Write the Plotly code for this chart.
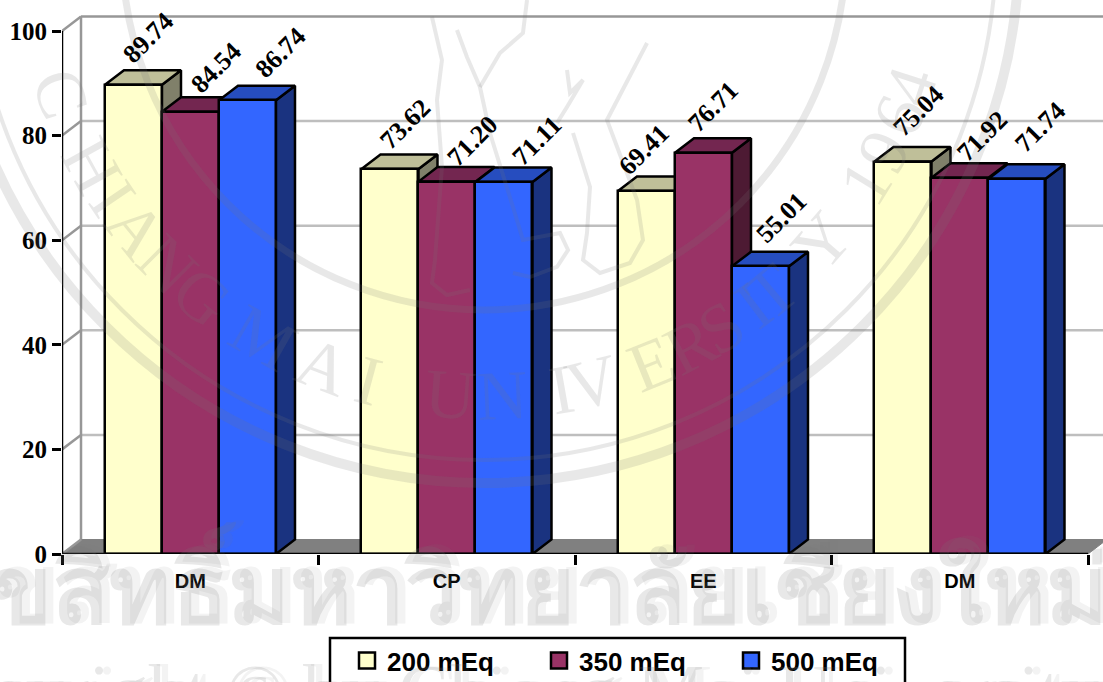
import math
import plotly.graph_objects as go

categories = ["DM", "CP", "EE", "DM"]
series_names = ["200 mEq", "350 mEq", "500 mEq"]
values_200 = [89.74, 73.62, 69.41, 75.04]
values_350 = [84.54, 71.20, 76.71, 71.92]
values_500 = [86.74, 71.11, 55.01, 71.74]
y_ticks = [0, 20, 40, 60, 80, 100]
all_values = [values_200, values_350, values_500]

front_colors = ["#FFFFCC", "#993366", "#3366FF"]
top_colors = ["#BFBF99", "#732650", "#264DBF"]
side_colors = ["#80806A", "#4D1A33", "#1A3380"]

W, H = 1103, 682
L, B = 62, 128
PX_X = 256.5
PX_Y = 5.23
plot_w, plot_h = W - L, H - B
xmax = plot_w / PX_X
ymax = plot_h / PX_Y
DX = 19 / PX_X
DY = 14.5 / PX_Y
BAR_W = 57 / PX_X
OFFS = [0.1676 + BAR_W * i for i in range(3)]
GRID = "#BEBEBE"
WALL = "#979797"
EDGE = 2.5

label_shift = [
    [(15, 47), (16, 45), (-2, 41), (16, 51)],
    [(26, 44), (26, 41), (10, 46), (23, 42)],
    [(33, 48), (33, 42), (21, 49), (24, 52)],
]

fig = go.Figure()

# floor
fig.add_trace(go.Scatter(x=[0, DX, 4 + DX, 4, 0], y=[0, DY, DY, 0, 0], mode="lines", fill="toself",
                         fillcolor="#808080", line=dict(color="#808080", width=1), hoverinfo="skip",
                         showlegend=False, zorder=0))
# wall grid lines
gx, gy = [], []
for t in y_ticks[1:-1]:
    gx += [DX, 4 + DX, None]
    gy += [t + DY, t + DY, None]
fig.add_trace(go.Scatter(x=gx, y=gy, mode="lines", line=dict(color=GRID, width=2.5), hoverinfo="skip",
                         showlegend=False, zorder=0))
gx, gy = [DX, DX, None, DX, 4 + DX, None], [100 + DY, DY, None, 100 + DY, 100 + DY, None]
for t in y_ticks:
    gx += [0, DX, None]
    gy += [t, t + DY, None]
fig.add_trace(go.Scatter(x=gx, y=gy, mode="lines", line=dict(color=WALL, width=2.5), hoverinfo="skip",
                         showlegend=False, zorder=0))

annotations = []
for s, vals in enumerate(all_values):
    xs = [g + OFFS[s] for g in range(4)]
    sx, sy, tx, ty = [], [], [], []
    for x0, v in zip(xs, vals):
        x1 = x0 + BAR_W
        sx += [x1, x1 + DX, x1 + DX, x1, x1, None]
        sy += [0, DY, v + DY, v, 0, None]
        tx += [x0, x0 + DX, x1 + DX, x1, x0, None]
        ty += [v, v + DY, v + DY, v, v, None]
    z = 1 + s * 2
    edge = dict(color="black", width=EDGE)
    fig.add_trace(go.Scatter(x=sx, y=sy, mode="lines", fill="toself", fillcolor=side_colors[s], line=edge,
                             hoverinfo="skip", showlegend=False, zorder=z))
    fig.add_trace(go.Scatter(x=tx, y=ty, mode="lines", fill="toself", fillcolor=top_colors[s], line=edge,
                             hoverinfo="skip", showlegend=False, zorder=z))
    fig.add_trace(go.Bar(x=[x + BAR_W / 2 for x in xs], y=vals, width=BAR_W, name=series_names[s],
                         marker=dict(color=front_colors[s], line=dict(color="black", width=EDGE)),
                         showlegend=False, zorder=z + 1))
    # legend key
    fig.add_trace(go.Scatter(x=[None], y=[None], mode="markers", name=series_names[s],
                             marker=dict(symbol="square", size=16, color=front_colors[s],
                                         line=dict(color="black", width=2.5)), zorder=0))
    for g, (x0, v) in enumerate(zip(xs, vals)):
        xs_, ys_ = label_shift[s][g]
        annotations.append(dict(x=x0 + BAR_W / 2, y=v, xref="x", yref="y", text=f"<b>{v:.2f}</b>", textangle=-45,
                                xshift=xs_, yshift=ys_, showarrow=False, xanchor="center", yanchor="middle",
                                font=dict(family="Liberation Serif", size=26, color="black")))


def px(x):
    return (x - L) / plot_w


def py(y):
    return (H - B - y) / plot_h


WM = "rgba(120,120,120,0.17)"
WM_SHADOW = "rgba(120,120,120,0.09)"
shapes = [
    dict(type="line", xref="x", yref="y", x0=0, x1=0, y0=0, y1=100, line=dict(color="black", width=EDGE)),
    dict(type="line", xref="x", yref="y", x0=0, x1=4, y0=0, y1=0, line=dict(color="black", width=EDGE)),
    dict(type="rect", xref="paper", yref="paper", x0=px(330), x1=px(905), y0=py(690), y1=py(638),
         line=dict(color="black", width=2.5), fillcolor="rgba(0,0,0,0)"),
]
# seal rings
SEAL_X, SEAL_Y = 484, -52
for r, w in [(535, 10), (512, 4), (362, 7)]:
    shapes.append(dict(type="circle", xref="paper", yref="paper", x0=px(SEAL_X - r), x1=px(SEAL_X + r),
                       y0=py(SEAL_Y + r), y1=py(SEAL_Y - r), line=dict(color=WM, width=w)))

# rough elephant strokes of the seal
elephant = [
    [(432, 17), (442, 60), (437, 100), (442, 167), (435, 260), (432, 283), (447, 295), (470, 290)],
    [(457, 30), (467, 57), (480, 87), (490, 133), (513, 207), (523, 240), (560, 233), (568, 250), (557, 267),
     (530, 277), (513, 273)],
    [(527, 0), (523, 33), (500, 53), (480, 87)],
    [(573, 133), (590, 187), (587, 233), (583, 260), (600, 273), (630, 263), (643, 240), (637, 200), (607, 120),
     (647, 43)],
    [(567, 70), (570, 93), (583, 80), (567, 107), (557, 123)],
]
for stroke in elephant:
    d = "M" + " L".join(f"{px(a):.4f},{py(b):.4f}" for a, b in stroke)
    shapes.append(dict(type="path", xref="paper", yref="paper", path=d, line=dict(color=WM, width=4)))

# seal lettering
seal_text = [("C", 161), ("H", 151), ("I", 146), ("A", 141), ("N", 135), ("G", 129), ("M", 119.6), ("A", 111),
             ("I", 105), ("U", 94.3), ("N", 87.6), ("I", 80), ("V", 76), ("E", 68), ("R", 62.5), ("S", 58),
             ("I", 53), ("T", 50), ("Y", 41), ("1", 31.6), ("9", 27), ("6", 22), ("4", 18)]
SEAL_R = 448
for ch, ang in seal_text:
    a = math.radians(ang)
    annotations.append(dict(x=px(SEAL_X + SEAL_R * math.cos(a)), y=py(SEAL_Y + SEAL_R * math.sin(a)),
                            xref="paper", yref="paper", text=ch, showarrow=False, textangle=ang - 90,
                            xanchor="center", yanchor="middle",
                            font=dict(family="Liberation Serif", size=70, color=WM)))

thai = "ลิขสิทธิ์มหาวิทยาลัยเชียงใหม่"
for dx, col in [(8, WM_SHADOW), (0, WM)]:
    annotations.append(dict(x=px(1110 + dx), y=py(586 - dx / 4), xref="paper", yref="paper", showarrow=False,
                            text=f"<b>{thai}</b>", xanchor="right", yanchor="middle",
                            font=dict(family="Noto Sans, DejaVu Sans", size=94, color=col)))
    annotations.append(dict(x=px(499 + dx), y=py(647), xref="paper", yref="paper", showarrow=False,
                            text="Copyright © by Chiang Mai University", xanchor="center", yanchor="top",
                            font=dict(family="Liberation Serif", size=76, color=col)))

fig.update_layout(
    width=W, height=H,
    margin=dict(l=L, r=0, t=0, b=B, autoexpand=False),
    paper_bgcolor="white", plot_bgcolor="white",
    barmode="overlay", bargap=0,
    xaxis=dict(range=[0, xmax], showgrid=False, zeroline=False, showline=False,
               tickmode="array", tickvals=[g + 0.5 for g in range(4)], ticktext=[f"<b>{c}</b>" for c in categories],
               ticks="", ticklabelstandoff=13,
               tickfont=dict(family="Liberation Sans", size=20, color="black"),
               minor=dict(tickmode="array", tickvals=[0, 1, 2, 3, 4], ticks="outside", ticklen=10, tickwidth=2.5,
                          tickcolor="black", showgrid=False)),
    yaxis=dict(range=[0, ymax], showgrid=False, zeroline=False, showline=False,
               tickmode="array", tickvals=y_ticks, ticktext=[f"<b>{t}</b>" for t in y_ticks],
               ticks="outside", ticklen=9, tickwidth=2.5, tickcolor="black",
               tickfont=dict(family="Liberation Serif", size=25, color="black")),
    legend=dict(orientation="h", x=px(347), xanchor="left", y=py(637), yanchor="top",
                font=dict(family="Liberation Sans", size=26, color="black", weight="bold"),
                bgcolor="rgba(0,0,0,0)", borderwidth=0, itemsizing="trace",
                entrywidthmode="pixels", entrywidth=147, traceorder="normal"),
    shapes=shapes,
    annotations=annotations,
)

fig.write_html("out.html", config={"displayModeBar": False},
               post_script="document.body.style.margin='0';document.body.style.overflow='hidden';")
